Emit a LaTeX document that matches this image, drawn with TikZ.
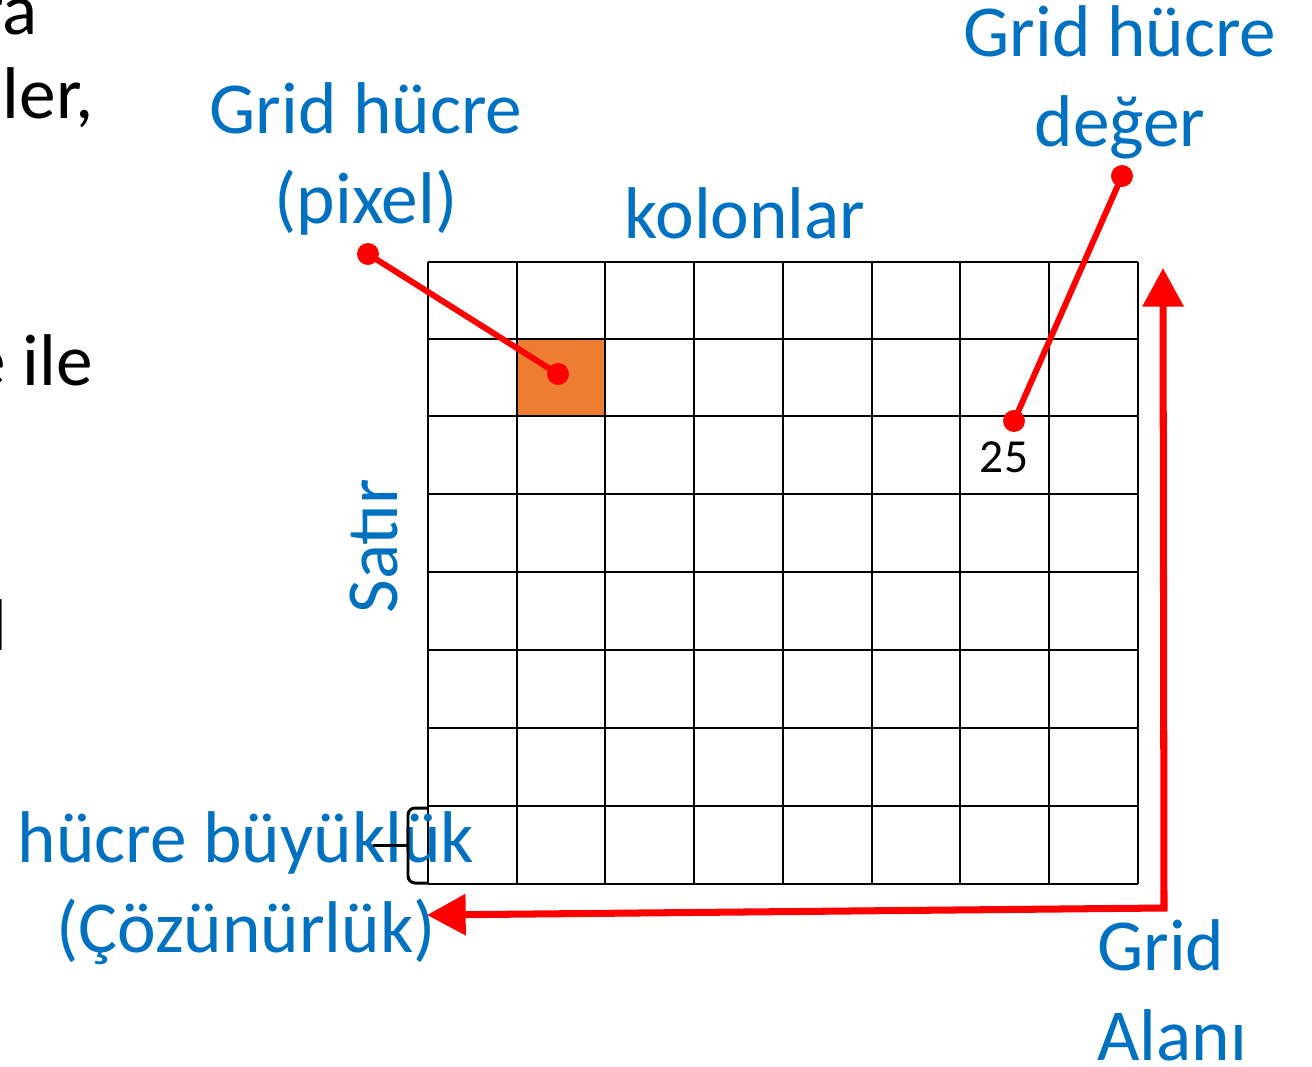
\documentclass[tikz,border=0pt]{standalone}
\usepackage{fontspec}
\setmainfont{Carlito}
\usetikzlibrary{arrows.meta, positioning}
\definecolor{gridblue}{RGB}{0,112,192}
\definecolor{cellorange}{RGB}{237,125,49}

\begin{document}
\begin{tikzpicture}[x=0.02cm, y=-0.02cm,
  lbl/.style={text=gridblue, font=\fontsize{41.7}{51}\selectfont, align=center, inner sep=0pt},
  side/.style={font=\fontsize{41.7}{51}\selectfont, inner sep=0pt, anchor=base east},
  redline/.style={draw=red, line width=3.4pt},
  reddot/.style={circle, fill=red, minimum size=12.5pt, inner sep=0pt},
  arr/.style={draw=red, line width=4pt, {Triangle[length=22pt, width=22.7pt]}-{Triangle[length=22pt, width=22.7pt]}}]
 \useasboundingbox (0,0) rectangle (1312,1066);
 \clip (0,0) rectangle (1312,1066);
 \node[side] (frag1) at (38,34){ra};
 \node[side] (frag2) at (94,118){ler,};
 \node[side] (frag3) at (93,385){e ile};
 \node[side] (frag4) at (8,650){l};
 \fill[cellorange] (517,339) rectangle (605,416);
 \foreach \x in {428,517,605,694,783,872,960,1049,1138}
  \draw[line width=1.4pt] (\x,262) -- (\x,884);
 \foreach \y in {262,339,416,494,572,650,728,806,884}
  \draw[line width=1.4pt] (428,\y) -- (1138,\y);
 \node[lbl, anchor=base] (pixlbl) at (366,223){Grid hücre\\(pixel)};
 \node[lbl, anchor=base] (kolon) at (745,238){kolonlar};
 \node[lbl, anchor=base] (deger) at (1120,146){Grid hücre\\değer};
 \node[lbl, anchor=base, rotate=90] (satir) at (397,546){Satır};
 \node[lbl, anchor=base] (boyut) at (246,952){hücre büyüklük\\(Çözünürlük)};
 \node[lbl, anchor=base west, align=left] (alan) at (1097,1060){Grid\\Alanı};
 \node[font=\fontsize{27}{32}\selectfont, inner sep=0pt, anchor=base] (val) at (1004,472){25};
 \draw[line width=1.7pt, rounded corners=4pt] (428,808) -- (408,808) -- (408,883) -- (428,883);
 \draw[line width=1.7pt] (408,845) -- (373,845);
 \node[reddot] (p1) at (368,254){};
 \node[reddot] (p2) at (558,374){};
 \node[reddot] (p3) at (1122,176){};
 \node[reddot] (p4) at (1014,421){};
 \draw[redline] (p1.center) -- (p2.center);
 \draw[redline] (p3.center) -- (p4.center);
 \coordinate (tipL) at (427,915);
 \coordinate (corner) at (1164,908);
 \coordinate (tipU) at (1163,268);
 \draw[arr] (tipL) -- (corner) -- (tipU);
\end{tikzpicture}
\end{document}
